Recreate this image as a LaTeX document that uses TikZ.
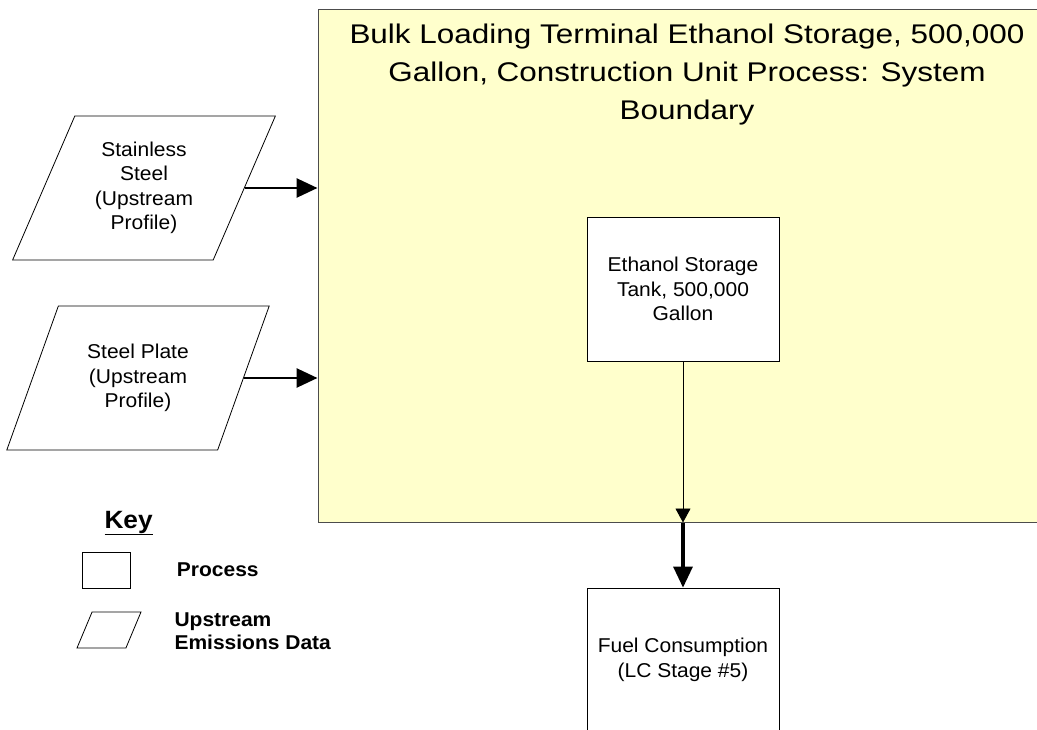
\documentclass[tikz,border=0pt]{standalone}
\usepackage{fontspec}
\setmainfont{Liberation Sans}[FakeStretch=1.05]
\newfontfamily\titlefont{Liberation Sans}[FakeStretch=1.165]
\usetikzlibrary{arrows.meta,positioning,shapes.geometric}
\definecolor{boundfill}{HTML}{FFFFCC}

\begin{document}
\begin{tikzpicture}
  [x=1pt,y=-1pt,
   every node/.style={font=\fontsize{20}{24.5}\selectfont},
   boundary/.style={rectangle,draw=black!70,fill=boundfill,line width=1pt},
   process/.style={rectangle,draw,line width=0.8pt,fill=white,align=center,inner sep=0pt,
                   minimum width=192pt,minimum height=144pt},
   upstream/.style={trapezium,trapezium stretches=true,draw,line width=0.8pt,fill=white,
                    align=center,inner sep=2pt,
                    trapezium left angle=64.5,trapezium right angle=115.5,
                    minimum width=263pt,minimum height=144pt},
   flow/.style={-{Triangle[length=21pt,width=19pt]},line width=2.8pt},
   thin flow/.style={-{Triangle[length=14pt,width=15pt]},line width=0.9pt},
   key text/.style={font=\bfseries\fontsize{20}{23}\selectfont,align=left,anchor=west}]

  \useasboundingbox (0,0) rectangle (1037,730);

  % System boundary
  \node [boundary,minimum width=727pt,minimum height=512pt] (sys) at (681.5,266) {};
  \node [font=\titlefont\fontsize{27}{38}\selectfont,align=center] (systitle) at (687,75)
    {Bulk Loading Terminal Ethanol Storage, 500,000\\
     Gallon, Construction Unit Process: System\\
     Boundary};

  % Processes
  \node [process] (tank) at (683,289) {Ethanol Storage\\Tank, 500,000\\Gallon};
  \node [process] (fuel) at (683,660) {Fuel Consumption\\(LC Stage \#5)};
  \coordinate (exit) at (tank.south |- sys.south);

  % Upstream inputs
  \node [upstream] (stain) at (144,188) {Stainless\\Steel\\(Upstream\\Profile)};
  \node [upstream] (plate) at (138,378) {Steel Plate\\(Upstream\\Profile)};

  \draw [flow] (stain.east) -- (stain.east -| sys.west);
  \draw [flow] (plate.east) -- (plate.east -| sys.west);
  \draw [thin flow] (tank.south) -- (exit);
  \draw [flow,line width=3.2pt] (exit) -- (fuel.north);

  % Key
  \node [font=\bfseries\fontsize{25}{28}\selectfont,anchor=base west] (keytitle) at (101,528)
    {\underline{Key}};
  \node [rectangle,draw,line width=0.8pt,minimum width=48pt,minimum height=36pt,inner sep=0pt]
    (keyproc) at (106,570) {};
  \node [trapezium,trapezium stretches=true,draw,line width=0.8pt,inner sep=2pt,
         trapezium left angle=66,trapezium right angle=114,
         minimum width=64pt,minimum height=36pt] (keyup) at (109,630) {};
  \node [key text,right=43pt of keyproc.east,anchor=west] (keyproclbl) {Process};
  \node [key text] (keyuplbl) at (171,631) {Upstream\\Emissions Data};

\end{tikzpicture}
\end{document}
